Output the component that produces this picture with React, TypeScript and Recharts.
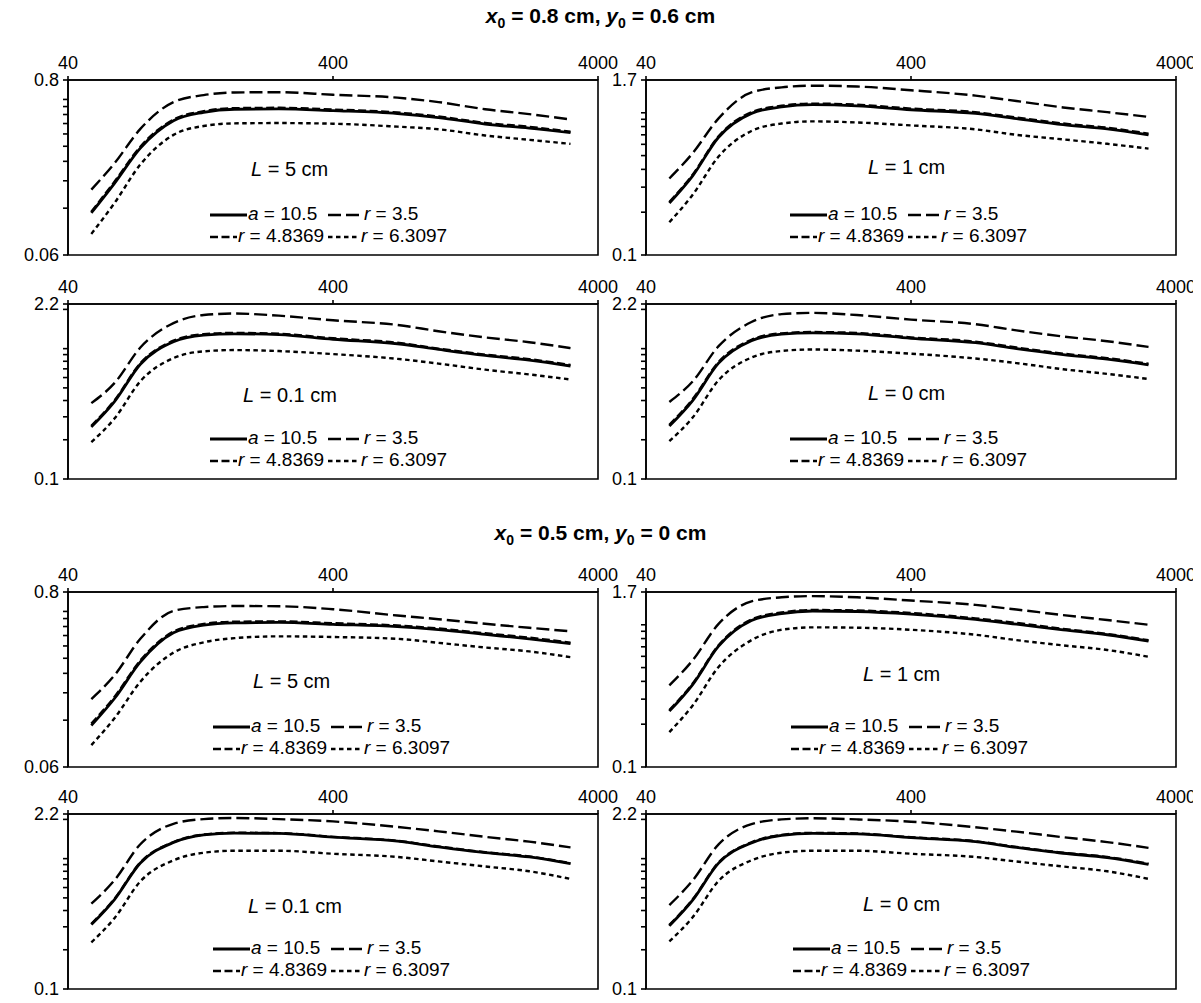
import React from "react";
import { LineChart, Line, XAxis, YAxis, ReferenceArea } from "recharts";

// frequency sample points (log x axis, 40..4000)
const freq = [49, 60, 75, 100, 130, 170, 250, 400, 700, 1000, 1500, 2200, 3150];
const xTicks = [40, 400, 4000];

const ticksLow = [0.06, 0.12, 0.18, 0.24, 0.3, 0.36, 0.42, 0.48, 0.54, 0.6, 0.8];
const ticksMid = [0.1, 0.2, 0.3, 0.4, 0.5, 0.6, 0.7, 0.8, 0.9, 1, 1.7];
const ticksHigh = [0.1, 0.2, 0.3, 0.4, 0.5, 0.6, 0.7, 0.8, 0.9, 1, 2, 2.2];

// x0 = 0.8 cm, y0 = 0.6 cm
const p1A = [0.112, 0.174, 0.292, 0.438, 0.496, 0.519, 0.521, 0.508, 0.487, 0.459, 0.417, 0.393, 0.367];
const p1R35 = [0.158, 0.234, 0.388, 0.577, 0.64, 0.665, 0.668, 0.643, 0.616, 0.577, 0.519, 0.483, 0.446];
const p1R48 = [0.114, 0.178, 0.298, 0.445, 0.504, 0.527, 0.53, 0.517, 0.494, 0.466, 0.424, 0.4, 0.372];
const p1R63 = [0.082, 0.13, 0.229, 0.355, 0.405, 0.421, 0.423, 0.419, 0.401, 0.386, 0.352, 0.33, 0.311];

const p2A = [0.232, 0.36, 0.67, 0.99, 1.1, 1.14, 1.12, 1.05, 0.99, 0.91, 0.825, 0.77, 0.7];
const p2R35 = [0.345, 0.52, 0.91, 1.39, 1.51, 1.55, 1.53, 1.44, 1.32, 1.21, 1.09, 1.01, 0.935];
const p2R48 = [0.236, 0.367, 0.68, 1.01, 1.12, 1.16, 1.14, 1.07, 1.01, 0.925, 0.84, 0.785, 0.713];
const p2R63 = [0.17, 0.265, 0.49, 0.745, 0.84, 0.87, 0.855, 0.815, 0.765, 0.7, 0.65, 0.605, 0.56];

const p3A = [0.251, 0.394, 0.759, 1.13, 1.27, 1.3, 1.28, 1.18, 1.09, 0.987, 0.887, 0.815, 0.736];
const p3R35 = [0.382, 0.546, 1.02, 1.57, 1.81, 1.86, 1.79, 1.65, 1.52, 1.36, 1.22, 1.12, 1.01];
const p3R48 = [0.256, 0.402, 0.772, 1.15, 1.29, 1.32, 1.3, 1.2, 1.11, 1.0, 0.9, 0.83, 0.75];
const p3R63 = [0.192, 0.292, 0.562, 0.846, 0.953, 0.975, 0.958, 0.908, 0.835, 0.768, 0.69, 0.634, 0.58];

const p4A = [0.255, 0.4, 0.77, 1.15, 1.29, 1.32, 1.3, 1.2, 1.11, 1.0, 0.9, 0.83, 0.75];
const p4R35 = [0.39, 0.56, 1.04, 1.6, 1.84, 1.88, 1.81, 1.67, 1.54, 1.38, 1.24, 1.14, 1.03];
const p4R48 = [0.26, 0.41, 0.785, 1.17, 1.31, 1.34, 1.32, 1.22, 1.13, 1.02, 0.915, 0.845, 0.765];
const p4R63 = [0.195, 0.296, 0.57, 0.855, 0.96, 0.985, 0.965, 0.915, 0.84, 0.775, 0.695, 0.64, 0.585];

// x0 = 0.5 cm, y0 = 0 cm
const p5A = [0.111, 0.166, 0.284, 0.437, 0.49, 0.506, 0.51, 0.496, 0.479, 0.458, 0.427, 0.4, 0.372];
const p5R35 = [0.164, 0.234, 0.4, 0.605, 0.64, 0.65, 0.648, 0.62, 0.565, 0.535, 0.5, 0.471, 0.447];
const p5R48 = [0.114, 0.17, 0.29, 0.445, 0.498, 0.515, 0.518, 0.504, 0.487, 0.466, 0.434, 0.407, 0.378];
const p5R63 = [0.083, 0.124, 0.212, 0.326, 0.38, 0.404, 0.415, 0.411, 0.4, 0.377, 0.352, 0.332, 0.305];

const p6A = [0.247, 0.38, 0.704, 1.07, 1.2, 1.25, 1.24, 1.19, 1.09, 1.01, 0.922, 0.851, 0.767];
const p6R35 = [0.375, 0.563, 1.01, 1.46, 1.56, 1.59, 1.56, 1.48, 1.38, 1.28, 1.17, 1.08, 1.0];
const p6R48 = [0.251, 0.386, 0.714, 1.09, 1.22, 1.27, 1.26, 1.21, 1.11, 1.03, 0.935, 0.862, 0.778];
const p6R63 = [0.176, 0.271, 0.503, 0.78, 0.922, 0.959, 0.954, 0.922, 0.851, 0.78, 0.716, 0.665, 0.596];

const p7A = [0.312, 0.488, 0.926, 1.33, 1.52, 1.57, 1.56, 1.46, 1.36, 1.23, 1.11, 1.03, 0.914];
const p7R35 = [0.451, 0.686, 1.29, 1.85, 2.01, 2.05, 2.01, 1.93, 1.75, 1.62, 1.47, 1.35, 1.22];
const p7R48 = [0.316, 0.494, 0.935, 1.34, 1.53, 1.58, 1.57, 1.47, 1.37, 1.24, 1.12, 1.04, 0.922];
const p7R63 = [0.228, 0.351, 0.669, 0.97, 1.11, 1.15, 1.15, 1.09, 1.03, 0.952, 0.871, 0.8, 0.699];

const p8A = [0.305, 0.48, 0.92, 1.32, 1.51, 1.56, 1.55, 1.45, 1.35, 1.22, 1.1, 1.02, 0.905];
const p8R35 = [0.44, 0.68, 1.28, 1.84, 2.0, 2.04, 2.0, 1.92, 1.74, 1.61, 1.46, 1.34, 1.21];
const p8R48 = [0.31, 0.487, 0.93, 1.335, 1.52, 1.575, 1.56, 1.46, 1.36, 1.23, 1.11, 1.03, 0.915];
const p8R63 = [0.232, 0.355, 0.672, 0.97, 1.11, 1.15, 1.15, 1.09, 1.03, 0.95, 0.87, 0.8, 0.7];

const FONT = '"Liberation Sans", Arial, Helvetica, sans-serif';
const PLOT_W = 530;
const PLOT_H = 175;
const AX_W = 64;
const AX_H = 40;

// draw order: solid, then dashed ones on top
const SERIES = [
  { key: "a", sym: "a", val: "10.5", dash: undefined, width: 2.8, sample: 37 },
  { key: "r35", sym: "r", val: "3.5", dash: "13 5", width: 2.4, sample: 35 },
  { key: "r48", sym: "r", val: "4.8369", dash: "8 3.5", width: 2.4, sample: 27 },
  { key: "r63", sym: "r", val: "6.3097", dash: "4.5 3.5", width: 2.4, sample: 32 },
];

type PanelProps = {
  left: number;
  top: number;
  a: number[];
  r35: number[];
  r48: number[];
  r63: number[];
  yMin: number;
  yMax: number;
  yTicks: number[];
  L: string;
  labelX: number;
  labelY: number;
  legendX: number;
};

function LegendItem({ s }: { s: (typeof SERIES)[number] }) {
  return (
    <span style={{ whiteSpace: "nowrap" }}>
      <svg width={s.sample} height={10} style={{ verticalAlign: "middle", marginRight: 1 }}>
        <line x1={0} y1={5} x2={s.sample} y2={5} stroke="#000" strokeWidth={s.width} strokeDasharray={s.dash} />
      </svg>
      <i>{s.sym}</i> = {s.val}
    </span>
  );
}

function Panel(p: PanelProps) {
  const rows = freq.map((f, i) => ({ f, a: p.a[i], r35: p.r35[i], r48: p.r48[i], r63: p.r63[i] }));
  const fmt = (v: number) => (v === p.yMin || v === p.yMax ? String(v) : "");
  return (
    <div style={{ position: "absolute", left: p.left - AX_W, top: p.top - AX_H }}>
      <LineChart
        width={AX_W + PLOT_W + 30}
        height={AX_H + PLOT_H + 10}
        data={rows}
        margin={{ top: 0, right: 30, bottom: 10, left: 0 }}
      >
        <XAxis
          dataKey="f"
          type="number"
          scale="log"
          domain={[40, 4000]}
          ticks={xTicks}
          interval={0}
          orientation="top"
          height={AX_H}
          allowDataOverflow
          stroke="#000"
          strokeWidth={1.6}
          tickSize={4}
          tickMargin={7}
          tick={{ fill: "#000", fontSize: 18, fontFamily: FONT }}
        />
        <YAxis
          type="number"
          scale="log"
          domain={[p.yMin, p.yMax]}
          ticks={p.yTicks}
          interval={0}
          width={AX_W}
          allowDataOverflow
          stroke="#000"
          strokeWidth={1.6}
          tickSize={5}
          tickMargin={4}
          tickFormatter={fmt}
          tick={{ fill: "#000", fontSize: 18, fontFamily: FONT }}
        />
        <ReferenceArea
          x1={40}
          x2={4000}
          y1={p.yMin}
          y2={p.yMax}
          fill="none"
          fillOpacity={0}
          stroke="#000"
          strokeWidth={1.6}
          ifOverflow="visible"
        />
        {SERIES.map((s) => (
          <Line
            key={s.key}
            dataKey={s.key}
            type="monotone"
            stroke="#000"
            strokeWidth={s.width}
            strokeDasharray={s.dash}
            dot={false}
            activeDot={false}
            isAnimationActive={false}
          />
        ))}
      </LineChart>
      <div
        style={{
          position: "absolute",
          left: AX_W + p.labelX,
          top: AX_H + p.labelY - 12,
          fontSize: 20,
          fontFamily: FONT,
          whiteSpace: "nowrap",
        }}
      >
        <i>L</i> = {p.L}
      </div>
      <div
        style={{
          position: "absolute",
          left: AX_W + p.legendX,
          top: AX_H + 123,
          fontSize: 19,
          fontFamily: FONT,
          lineHeight: "22px",
          display: "grid",
          gridTemplateColumns: "118px auto",
        }}
      >
        <LegendItem s={SERIES[0]} />
        <LegendItem s={SERIES[1]} />
        <LegendItem s={SERIES[2]} />
        <LegendItem s={SERIES[3]} />
      </div>
    </div>
  );
}

function Title({ top, x0, y0 }: { top: number; x0: string; y0: string }) {
  return (
    <div
      style={{
        position: "absolute",
        left: 0,
        width: 1201,
        top,
        textAlign: "center",
        fontFamily: FONT,
        fontWeight: "bold",
        fontSize: 21,
        lineHeight: "24px",
      }}
    >
      <i>x</i>
      <sub style={{ fontSize: 14 }}>0</sub> = {x0} cm, <i>y</i>
      <sub style={{ fontSize: 14 }}>0</sub> = {y0} cm
    </div>
  );
}

export default function App() {
  const L1 = 68;
  const L2 = 646;
  return (
    <div
      style={{
        position: "relative",
        width: 1201,
        height: 1003,
        margin: -8,
        background: "#fff",
        overflow: "hidden",
      }}
    >
      <Title top={4} x0="0.8" y0="0.6" />
      <Panel left={L1} top={80} a={p1A} r35={p1R35} r48={p1R48} r63={p1R63} yMin={0.06} yMax={0.8} yTicks={ticksLow} L="5 cm" labelX={183} labelY={90} legendX={142} />
      <Panel left={L2} top={80} a={p2A} r35={p2R35} r48={p2R48} r63={p2R63} yMin={0.1} yMax={1.7} yTicks={ticksMid} L="1 cm" labelX={222} labelY={88} legendX={144} />
      <Panel left={L1} top={304} a={p3A} r35={p3R35} r48={p3R48} r63={p3R63} yMin={0.1} yMax={2.2} yTicks={ticksHigh} L="0.1 cm" labelX={175} labelY={92} legendX={142} />
      <Panel left={L2} top={304} a={p4A} r35={p4R35} r48={p4R48} r63={p4R63} yMin={0.1} yMax={2.2} yTicks={ticksHigh} L="0 cm" labelX={222} labelY={90} legendX={144} />
      <Title top={521} x0="0.5" y0="0" />
      <Panel left={L1} top={592} a={p5A} r35={p5R35} r48={p5R48} r63={p5R63} yMin={0.06} yMax={0.8} yTicks={ticksLow} L="5 cm" labelX={185} labelY={90} legendX={145} />
      <Panel left={L2} top={592} a={p6A} r35={p6R35} r48={p6R48} r63={p6R63} yMin={0.1} yMax={1.7} yTicks={ticksMid} L="1 cm" labelX={217} labelY={83} legendX={145} />
      <Panel left={L1} top={814} a={p7A} r35={p7R35} r48={p7R48} r63={p7R63} yMin={0.1} yMax={2.2} yTicks={ticksHigh} L="0.1 cm" labelX={180} labelY={93} legendX={145} />
      <Panel left={L2} top={814} a={p8A} r35={p8R35} r48={p8R48} r63={p8R63} yMin={0.1} yMax={2.2} yTicks={ticksHigh} L="0 cm" labelX={217} labelY={91} legendX={147} />
    </div>
  );
}
